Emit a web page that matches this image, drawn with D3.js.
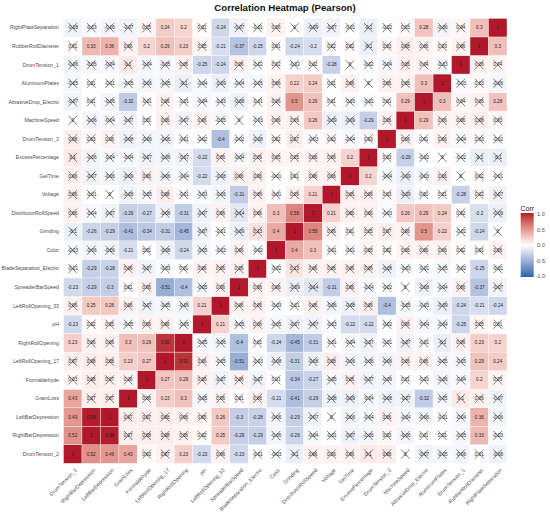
<!DOCTYPE html>
<html lang="en">
<head>
<meta charset="UTF-8">
<title>Correlation Heatmap (Pearson)</title>
<script src="https://d3js.org/d3.v7.min.js"></script>
<style>
  body { margin: 0; background: #fff; font-family: "Liberation Sans", Arial, sans-serif; }
  svg { display: block; }
  .ylab, .xlab { fill: #4d4d4d; font-size: 5.2px; }
  .cell-lab { fill: #222; font-size: 4.6px; text-anchor: middle; }
  .leg-lab { fill: #4d4d4d; font-size: 5.6px; }
</style>
</head>
<body>
<svg id="chart" width="550" height="512"></svg>
<script>
// variable order along the x axis (bottom-to-top on y)
const vars = [
  "DrumTension_2", "RightBarDepression", "LeftBarDepression", "GrainLoss",
  "Formaldehyde", "LeftRollOpening_17", "RightRollOpening", "pH",
  "LeftRollOpening_33", "SpreaderBarSpeed", "BladeSeparation_Electro", "Color",
  "Grinding", "DistributorRollSpeed", "Voltage", "GelTime",
  "ExcessPercentage", "DrumTension_3", "MachineSpeed", "AbrasiveDrop_Electro",
  "AluminumPlates", "DrumTension_1", "RubberRollDiameter", "RightPlateSeparation"
];

// lower triangle, row i holds corr with vars[0..i-1] (diagonal is 1)
const lowerRows = [
  [],
  [0.52],
  [0.49, 0.99],
  [0.43, 0.07, 0.07],
  [0.03, 0.08, 0.07, 0.06],
  [0.07, 0.08, 0.08, 0.23, 0.27],
  [0.23, 0.06, 0.06, 0.3, 0.29, 0.92],
  [-0.23, 0.02, 0.05, -0.05, 0.06, 0.06, -0.05],
  [0.06, 0.25, 0.26, 0.06, -0.07, -0.05, -0.06, 0.21],
  [-0.23, -0.29, -0.3, 0.01, 0.06, -0.51, -0.4, -0.05, 0.06],
  [-0.01, -0.29, -0.28, 0.06, -0.07, -0.03, 0.01, 0.06, 0.06, 0.06],
  [-0.03, -0.06, -0.06, -0.21, 0.01, -0.08, -0.24, -0.05, -0.03, 0.06, -0.02],
  [-0.1, -0.26, -0.29, -0.41, -0.34, -0.31, -0.45, -0.07, -0.01, -0.09, 0.13, 0.4],
  [0.06, -0.04, -0.07, -0.29, -0.27, -0.08, -0.31, -0.07, 0.06, -0.14, 0.06, 0.3, 0.58],
  [0.06, -0.01, 0, -0.08, -0.05, 0.08, -0.01, -0.03, -0.06, -0.31, 0.06, -0.01, 0.06, 0.21],
  [0.06, -0.07, -0.06, -0.09, 0.06, -0.06, -0.04, -0.22, -0.08, 0.06, 0.06, -0.01, 0.01, 0.06, 0.06],
  [0.1, -0.06, -0.04, -0.04, -0.07, -0.06, -0.07, -0.22, 0.06, -0.04, 0.06, 0.05, 0.05, 0.06, 0.06, 0.2],
  [0.08, 0.03, 0.06, -0.08, -0.06, -0.06, -0.01, -0.02, -0.4, -0.02, -0.08, 0.02, 0.07, -0.03, 0.03, -0.04, 0.03],
  [0, -0.06, -0.04, -0.07, 0.01, 0.06, -0.07, 0.06, -0.05, 0, -0.03, 0.06, 0.06, 0.26, -0.09, -0.09, -0.29, 0.06],
  [-0.07, 0.01, -0.06, -0.32, -0.01, 0.06, -0.01, -0.04, -0.03, -0.08, -0.01, 0.06, 0.5, 0.29, 0.01, -0.03, -0.02, 0.01, 0.29],
  [-0.05, 0.01, -0.01, -0.05, -0.06, -0.05, -0.1, -0.04, -0.09, -0.04, -0.05, 0.06, 0.22, 0.24, 0.01, 0.06, 0, 0.06, 0.06, 0.3],
  [-0.06, -0.05, -0.04, 0.1, -0.04, -0.05, 0.06, -0.25, -0.24, 0.06, -0.02, 0.02, -0.02, 0.02, -0.28, 0, -0.02, -0.04, 0.06, 0.04, -0.03],
  [0.01, 0.33, 0.36, 0.06, 0.2, 0.29, 0.23, 0.05, -0.21, -0.37, -0.25, 0.01, -0.24, -0.2, 0.02, 0.02, -0.1, 0.03, 0.08, 0.06, 0.03, 0.06],
  [-0.08, -0.03, -0.06, -0.07, 0.05, 0.24, 0.2, 0.01, -0.24, -0.07, -0.01, 0.06, 0, -0.09, -0.07, -0.01, -0.1, -0.02, 0.03, 0.28, -0.06, 0.04, 0.3]
];

const legendTicks = [-1, -0.5, 0, 0.5, 1];
const sigCut = 0.195; // cells below this get crossed out

// full symmetric matrix -> long list of cells
const cells = [];
vars.forEach((rv, i) => {
  vars.forEach((cv, j) => {
    let v;
    if (i === j) v = 1;
    else if (j < i) v = lowerRows[i][j];
    else v = lowerRows[j][i];
    cells.push({ row: rv, col: cv, value: v });
  });
});

const svg = d3.select("#chart");

const x = d3.scaleBand().domain(vars).range([63.5, 507]);
const y = d3.scaleBand().domain(vars).range([463.3, 18.4]);

const color = d3.scaleLinear()
  .domain([-1, 0, 1])
  .range(["#2166AC", "#FFFFFF", "#B2182B"])
  .interpolate(d3.interpolateLab);

const fmt = v => String(+v.toFixed(2));

// tiles
svg.append("g").selectAll("rect")
  .data(cells)
  .join("rect")
  .attr("x", d => x(d.col))
  .attr("y", d => y(d.row))
  .attr("width", x.bandwidth())
  .attr("height", y.bandwidth())
  .attr("fill", d => color(d.value))
  .attr("stroke", "#fff")
  .attr("stroke-width", 0.35);

// value labels
svg.append("g").selectAll("text")
  .data(cells)
  .join("text")
  .attr("class", "cell-lab")
  .attr("x", d => x(d.col) + x.bandwidth() / 2)
  .attr("y", d => y(d.row) + y.bandwidth() / 2)
  .attr("dy", "0.35em")
  .text(d => fmt(d.value));

// crosses on non-significant cells
const hx = 4.3, hy = 4.6;
svg.append("g").selectAll("path")
  .data(cells.filter(d => Math.abs(d.value) < sigCut))
  .join("path")
  .attr("d", d => {
    const cx = x(d.col) + x.bandwidth() / 2, cy = y(d.row) + y.bandwidth() / 2;
    return `M${cx - hx},${cy - hy}L${cx + hx},${cy + hy}M${cx - hx},${cy + hy}L${cx + hx},${cy - hy}`;
  })
  .attr("stroke", "#2a2a2a")
  .attr("stroke-width", 0.6)
  .attr("fill", "none");

// y axis labels
svg.append("g").selectAll("text")
  .data(vars)
  .join("text")
  .attr("class", "ylab")
  .attr("x", 59)
  .attr("y", d => y(d) + y.bandwidth() / 2)
  .attr("dy", "0.35em")
  .attr("text-anchor", "end")
  .text(d => d);

// x axis labels, 45 degrees
svg.append("g").selectAll("text")
  .data(vars)
  .join("text")
  .attr("class", "xlab")
  .attr("text-anchor", "end")
  .attr("transform", d => `translate(${x(d) + x.bandwidth() / 2 + 2},${468}) rotate(-45)`)
  .attr("dy", "0.7em")
  .text(d => d);

// title
svg.append("text")
  .attr("x", 285)
  .attr("y", 10.5)
  .attr("text-anchor", "middle")
  .attr("font-weight", "bold")
  .attr("font-size", "9.6px")
  .attr("fill", "#111")
  .text("Correlation Heatmap (Pearson)");

// legend
const defs = svg.append("defs");
const grad = defs.append("linearGradient")
  .attr("id", "corr-grad")
  .attr("x1", 0).attr("y1", 1).attr("x2", 0).attr("y2", 0);
d3.range(0, 1.0001, 0.05).forEach(t => {
  grad.append("stop")
    .attr("offset", t)
    .attr("stop-color", color(-1 + 2 * t));
});

const legY = d3.scaleLinear().domain([-1, 1]).range([276.5, 214.5]);

svg.append("text")
  .attr("x", 520.5)
  .attr("y", 211)
  .attr("font-size", "7px")
  .attr("fill", "#222")
  .text("Corr");

svg.append("rect")
  .attr("x", 520.7)
  .attr("y", 213)
  .attr("width", 13)
  .attr("height", 64)
  .attr("fill", "url(#corr-grad)");

svg.append("g").selectAll("text")
  .data(legendTicks)
  .join("text")
  .attr("class", "leg-lab")
  .attr("x", d => d < 0 ? 535.5 : 537)
  .attr("y", d => legY(d))
  .attr("dy", "0.35em")
  .text(d => d.toFixed(1));
</script>
</body>
</html>
